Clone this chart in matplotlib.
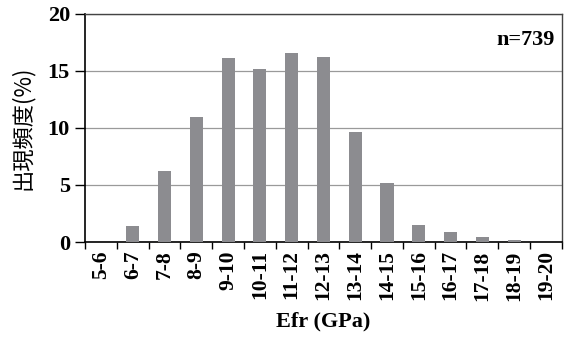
import matplotlib.pyplot as plt
import numpy as np

categories = ['5-6', '6-7', '7-8', '8-9', '9-10', '10-11', '11-12', '12-13',
              '13-14', '14-15', '15-16', '16-17', '17-18', '18-19', '19-20']
freq = [0, 1.4, 6.2, 11.0, 16.1, 15.2, 16.6, 16.2, 9.6, 5.2, 1.5, 0.9, 0.4, 0.15, 0]

plt.rcParams['font.family'] = ['Liberation Serif', 'Noto Sans CJK JP']
plt.rcParams['font.weight'] = 'bold'

fig = plt.figure(figsize=(5.64, 3.38), dpi=100)
ax = fig.add_axes([0.151, 0.284, 0.845, 0.675])

x = np.arange(len(categories))
ax.bar(x, freq, width=0.41, color='#8c8c90', zorder=3)

ax.set_xlim(-0.5, len(categories) - 0.5)
ax.set_ylim(0, 20)
ax.set_yticks([0, 5, 10, 15, 20])
ax.yaxis.grid(True, color='#9a9a9a', linewidth=0.9, zorder=0)

ax.set_xticks(x)
ax.set_xticklabels(categories, rotation=90, fontsize=15.5, fontweight='bold')
ax.tick_params(axis='x', which='major', length=0, pad=6)
ax.set_xticks(np.arange(-0.5, len(categories)), minor=True)
ax.tick_params(axis='x', which='minor', length=5, width=1, direction='out')
ax.tick_params(axis='y', labelsize=16, length=7, width=1, pad=4)
for lab in ax.get_yticklabels():
    lab.set_fontweight('bold')

for side in ['left', 'bottom']:
    ax.spines[side].set_linewidth(1.2)
for side in ['top', 'right']:
    ax.spines[side].set_linewidth(1.0)
    ax.spines[side].set_color('#444444')

ax.set_ylabel('出現頻度(%)', fontsize=16, family=['Noto Sans CJK JP'], fontweight='normal', labelpad=10)
ax.set_xlabel('Efr (GPa)', fontsize=16, fontweight='bold', labelpad=8)
ax.text(0.985, 0.93, 'n=739', transform=ax.transAxes, ha='right', va='top',
        fontsize=16, fontweight='bold')

fig.savefig('out.png', dpi=100)
